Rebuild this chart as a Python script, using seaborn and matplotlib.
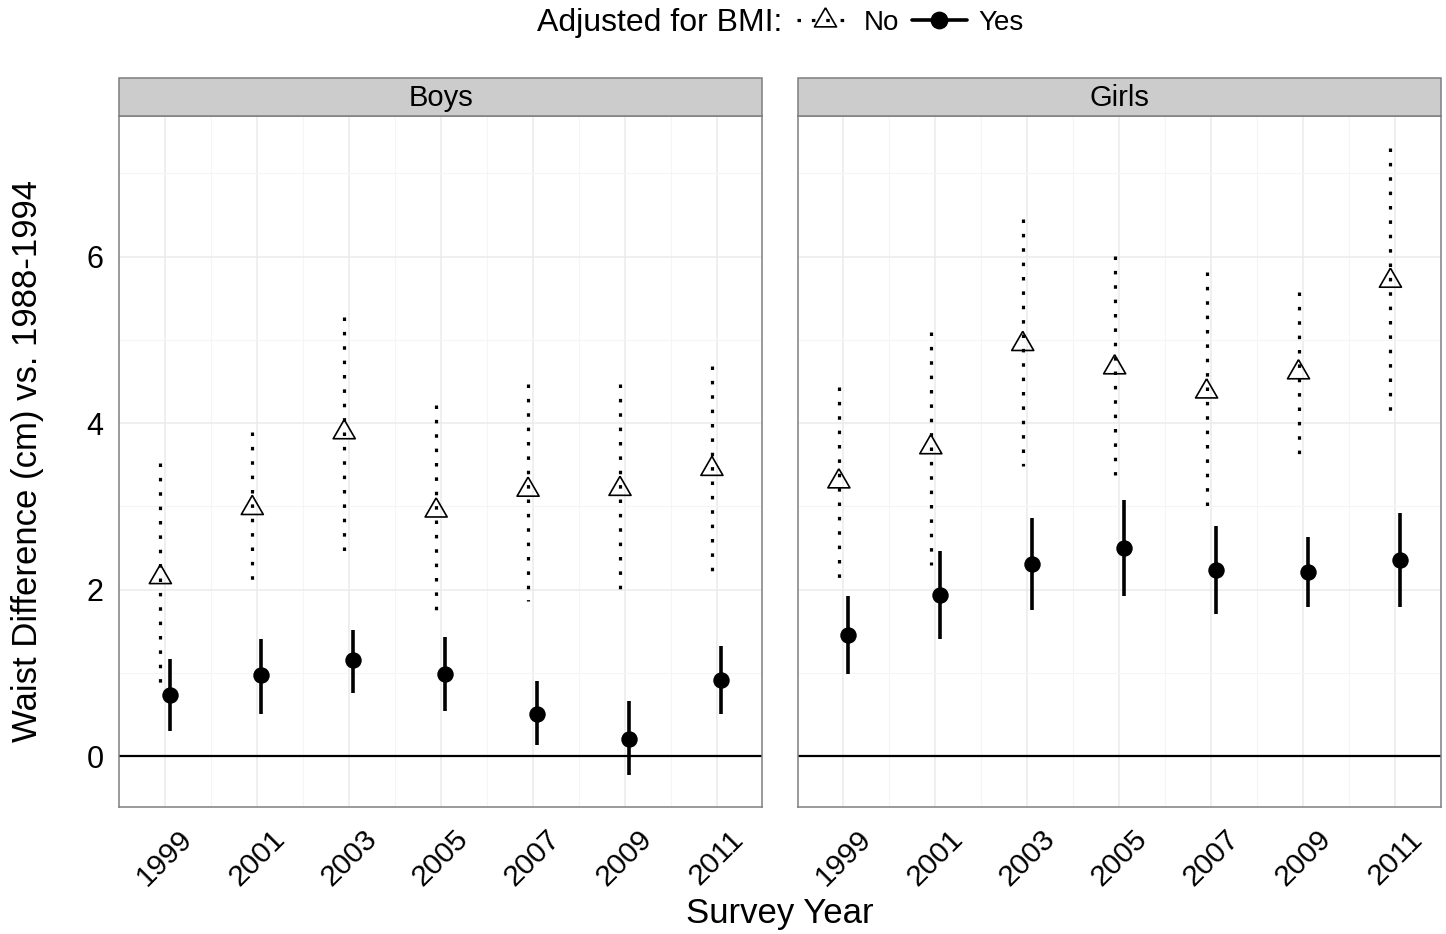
import numpy as np
import pandas as pd
import matplotlib
matplotlib.use("Agg")
import matplotlib.pyplot as plt
from matplotlib.lines import Line2D
from matplotlib.patches import Rectangle
import seaborn as sns

# ---------------- data ----------------
years = ["1999", "2001", "2003", "2005", "2007", "2009", "2011"]
sexes = ["Boys", "Girls"]
adjusted_levels = ["No", "Yes"]

boys_no_est = [2.15, 2.98, 3.89, 2.95, 3.20, 3.21, 3.45]
boys_no_lo = [0.76, 2.07, 2.47, 1.74, 1.87, 2.01, 2.23]
boys_no_hi = [3.52, 3.89, 5.27, 4.22, 4.47, 4.47, 4.69]
boys_yes_est = [0.74, 0.97, 1.15, 0.99, 0.51, 0.21, 0.915]
boys_yes_lo = [0.30, 0.51, 0.76, 0.54, 0.13, -0.23, 0.51]
boys_yes_hi = [1.17, 1.41, 1.52, 1.43, 0.90, 0.66, 1.32]

girls_no_est = [3.30, 3.71, 4.95, 4.67, 4.38, 4.61, 5.71]
girls_no_lo = [2.12, 2.30, 3.49, 3.38, 2.88, 3.61, 4.05]
girls_no_hi = [4.43, 5.10, 6.45, 6.01, 5.82, 5.57, 7.31]
girls_yes_est = [1.46, 1.94, 2.31, 2.50, 2.24, 2.21, 2.36]
girls_yes_lo = [0.99, 1.41, 1.76, 1.92, 1.71, 1.79, 1.79]
girls_yes_hi = [1.92, 2.47, 2.86, 3.08, 2.77, 2.63, 2.92]

y_ticks = [0, 2, 4, 6]

series = {
    ("Boys", "No"): (boys_no_est, boys_no_lo, boys_no_hi),
    ("Boys", "Yes"): (boys_yes_est, boys_yes_lo, boys_yes_hi),
    ("Girls", "No"): (girls_no_est, girls_no_lo, girls_no_hi),
    ("Girls", "Yes"): (girls_yes_est, girls_yes_lo, girls_yes_hi),
}
rows = []
for (sex, adj), (est, lo, hi) in series.items():
    for yr, e, l, h in zip(years, est, lo, hi):
        rows.append(dict(sex=sex, year=yr, adjusted=adj, est=e, lo=l, hi=h))
df = pd.DataFrame(rows)
dodge = {"No": -0.05, "Yes": 0.05}
df["x"] = df["year"].map({y: i for i, y in enumerate(years)}) + df["adjusted"].map(dodge)

# ---------------- style ----------------
sns.set_style("white")
plt.rcParams["font.family"] = ["Liberation Sans", "DejaVu Sans"]
plt.rcParams["text.color"] = "black"
plt.rcParams["axes.labelcolor"] = "black"
plt.rcParams["xtick.color"] = "black"
plt.rcParams["ytick.color"] = "black"

W, H = 1446, 934
tri = [(0, 1), (-0.866, -0.5), (0.866, -0.5), (0, 1)]
dot_style = (0, (1.1, 3.4))


def draw(data, color=None, label=None, **kws):
    ax = plt.gca()
    for adj, sub in data.groupby("adjusted"):
        if adj == "No":
            # draw from top to bottom so the dot pattern starts at the upper end
            ax.vlines(sub["x"], sub["hi"], sub["lo"], colors="black",
                      linewidth=2.3, linestyles=[dot_style], zorder=3)
            sns.scatterplot(data=sub, x="x", y="est", marker=tri, s=335,
                            facecolor="none", edgecolor="black",
                            linewidth=1.2, ax=ax, zorder=4, legend=False)
        else:
            ax.vlines(sub["x"], sub["lo"], sub["hi"], colors="black",
                      linewidth=2.6, linestyles="solid", zorder=3)
            sns.scatterplot(data=sub, x="x", y="est", marker="o", s=140,
                            color="black", edgecolor="black", linewidth=0,
                            ax=ax, zorder=4, legend=False)


g = sns.FacetGrid(df, col="sex", col_order=sexes, sharex=True, sharey=True,
                  height=6, aspect=1.0, despine=False)
g.map_dataframe(draw)
fig = g.figure
fig.set_size_inches(W / 100, H / 100)
fig.subplots_adjust(left=119 / W, right=1441 / W, bottom=1 - 807 / H,
                    top=1 - 116 / H, wspace=35 / 643)

for i, (ax, sex) in enumerate(zip(g.axes.flat, sexes)):
    ax.set_title("")
    ax.set_xlabel("")
    ax.set_ylabel("")
    ax.set_xlim(-0.5, len(years) - 0.5)
    ax.set_ylim(-0.61, 7.69)
    ax.set_xticks(range(len(years)))
    ax.set_xticklabels(years, rotation=45, ha="center", va="top",
                       fontsize=21.5, color="black")
    ax.set_xticks(np.arange(len(years) - 1) + 0.5, minor=True)
    ax.set_yticks(y_ticks)
    ax.set_yticks([1, 3, 5, 7], minor=True)
    ax.set_yticklabels([str(t) for t in y_ticks], fontsize=22, color="black")
    ax.grid(which="major", color="#EBEBEB", linewidth=1.1, zorder=0)
    ax.grid(which="minor", color="#F5F5F5", linewidth=0.8, zorder=0)
    ax.set_axisbelow(True)
    ax.axhline(0, color="black", linewidth=1.6, zorder=2)
    for sp in ax.spines.values():
        sp.set_color("#7F7F7F")
        sp.set_linewidth(1.1)
    ax.tick_params(axis="x", which="major", direction="out", length=7,
                   width=1.2, color="#333333", pad=6)
    ax.tick_params(axis="y", which="major", direction="out", length=7,
                   width=1.2, color="#333333", pad=4)
    ax.tick_params(axis="both", which="minor", length=0)
    if i > 0:
        ax.tick_params(axis="y", labelleft=False, left=False)
    # strip
    strip_h = 38 / (807 - 116)
    ax.add_patch(Rectangle((0, 1), 1, strip_h, transform=ax.transAxes,
                           facecolor="#CCCCCC", edgecolor="#7F7F7F",
                           linewidth=1.1, clip_on=False, zorder=5))
    ax.text(0.5, 1 + strip_h / 2 - 0.002, sex, transform=ax.transAxes,
            ha="center", va="center", fontsize=21, color="black", zorder=6)

fig.text(28 / W, 1 - 461 / H, "Waist Difference (cm) vs. 1988-1994",
         rotation=90, ha="center", va="center", fontsize=25, color="black")
fig.text(780 / W, 1 - 913 / H, "Survey Year", ha="center", va="center",
         fontsize=25, color="black")

# legend
handles = [
    Line2D([], [], color="black", linestyle=dot_style, linewidth=2.3,
           marker=tri, markersize=18.3, markerfacecolor="none",
           markeredgecolor="black", markeredgewidth=1.2),
    Line2D([], [], color="black", linestyle="-", linewidth=2.6,
           marker="o", markersize=11.8, markerfacecolor="black",
           markeredgecolor="black"),
]
fig.text(782 / W, 1 - 23 / H, "Adjusted for BMI:", ha="right", va="center",
         fontsize=23, color="black")
fig.legend(handles, adjusted_levels, loc="center left",
           bbox_to_anchor=(797 / W, 1 - 23 / H), ncol=2, frameon=False,
           fontsize=20, handlelength=2.0, handletextpad=0.4,
           columnspacing=0.45, borderpad=0, borderaxespad=0,
           labelcolor="black")

fig.savefig("out.png", dpi=100)
